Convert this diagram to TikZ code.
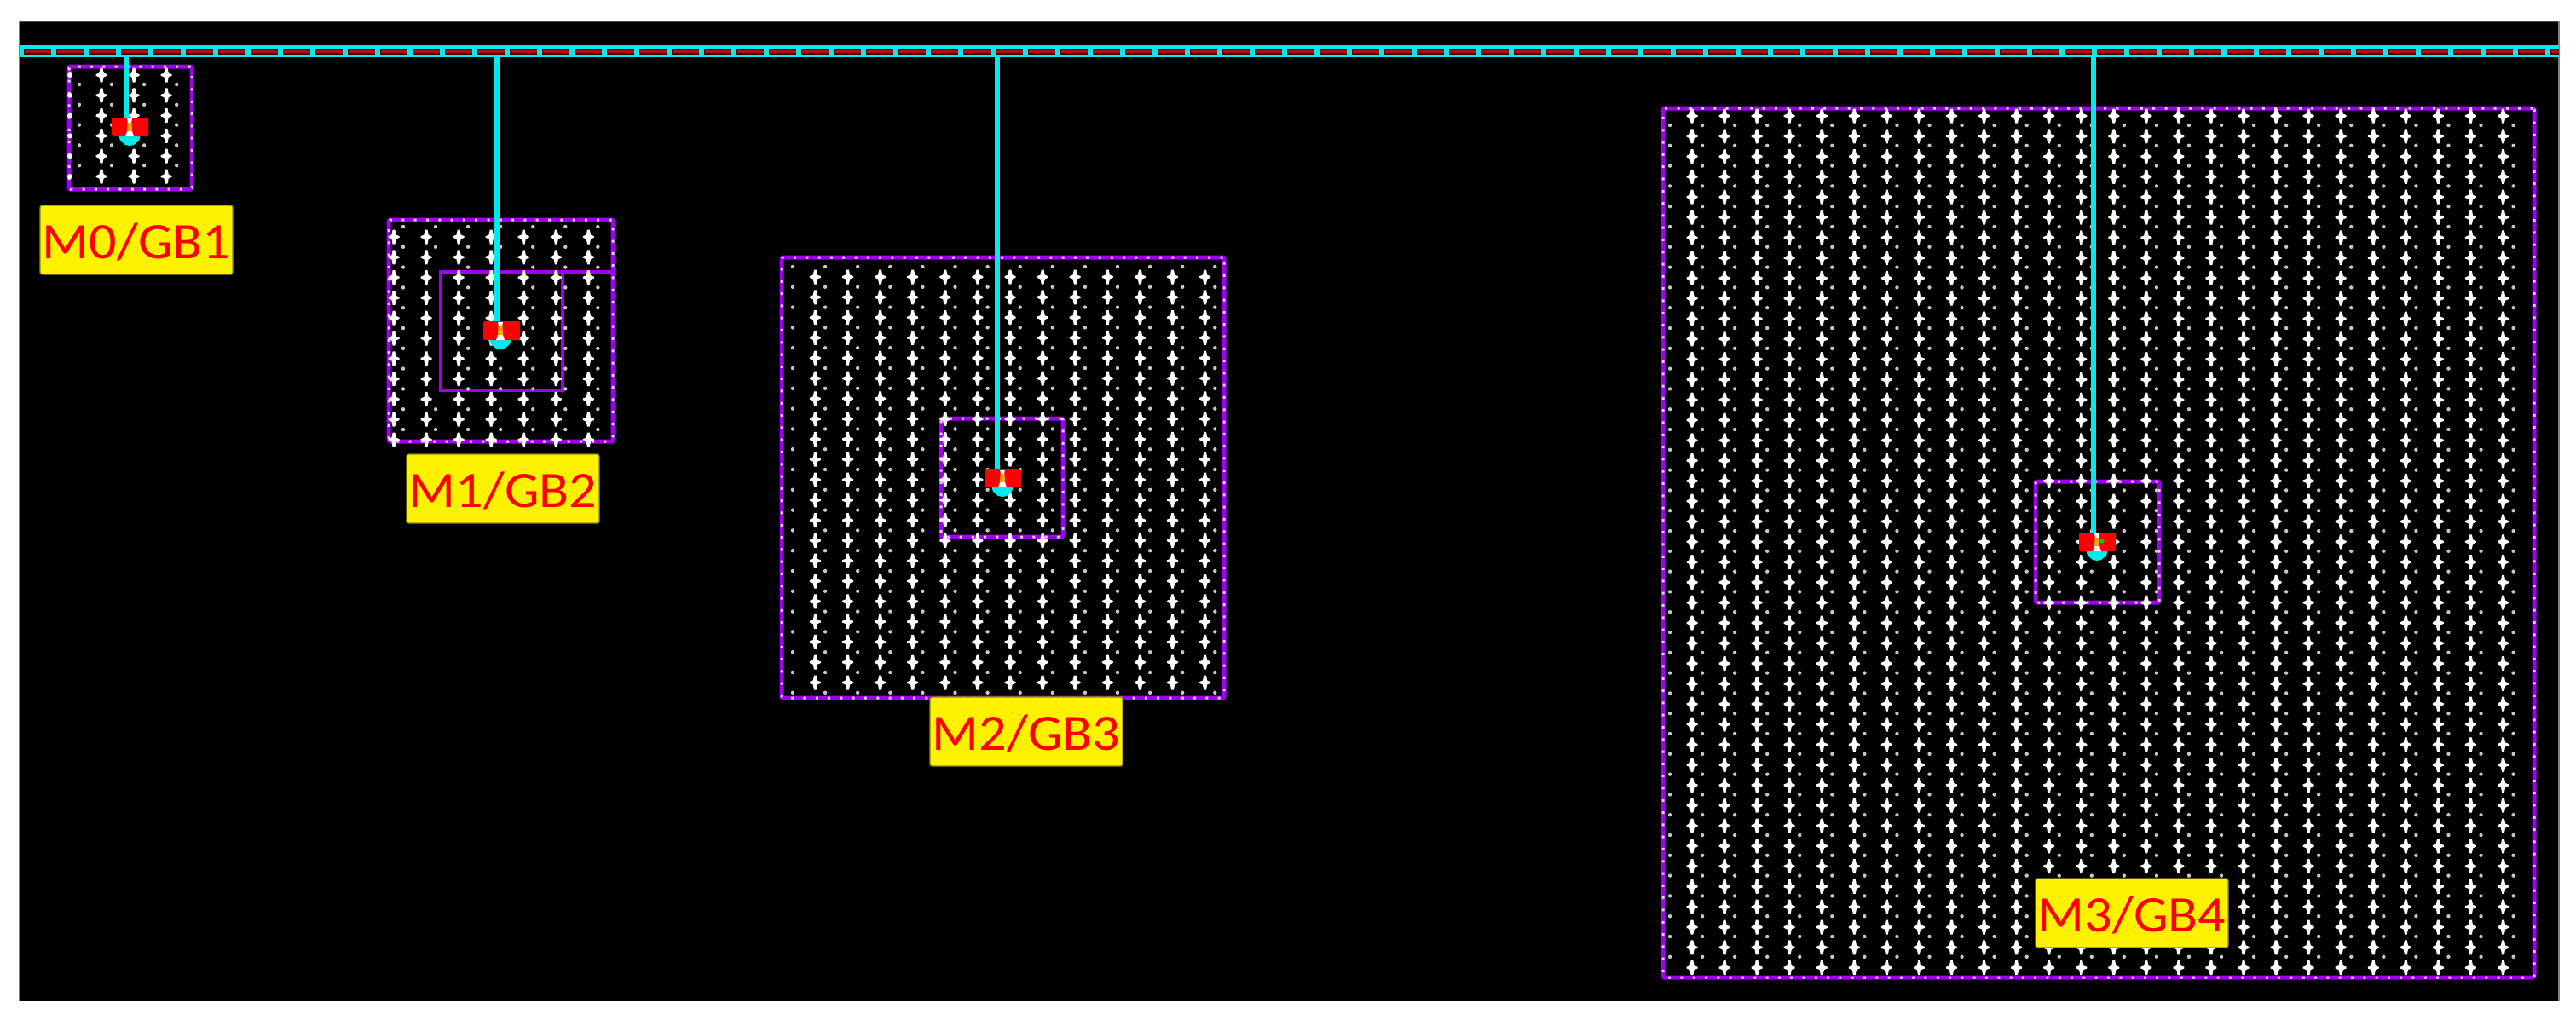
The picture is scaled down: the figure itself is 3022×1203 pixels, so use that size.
\documentclass[tikz,border=0pt]{standalone}
\usepackage{fontspec}
\setmainfont[FakeStretch=1.07]{Carlito}
\definecolor{bus}{HTML}{00EBEB}
\definecolor{pur}{HTML}{A000F0}
\definecolor{edgew}{HTML}{E0D0EC}
\definecolor{dotg}{HTML}{C8C8C8}
\definecolor{dred}{HTML}{B01010}
\definecolor{laborder}{HTML}{8A8A00}
\tikzset{
  x=1pt,y=-1pt,
  gridbox/.style={draw=pur,line width=5pt,inner sep=0pt,outer sep=0pt,rounded corners=1.5pt,
    postaction={draw=edgew,line width=3pt,dash pattern=on 3pt off 11.3pt}},
  solidbox/.style={draw=pur,line width=4pt,inner sep=0pt,outer sep=0pt},
  wire/.style={draw=bus,line width=5.2pt},
  tag/.style={fill=yellow,draw=laborder,line width=1.2pt,rounded corners=2.5pt,inner sep=0pt,outer sep=0pt,
    text=red,font=\fontsize{60}{60}\selectfont,minimum width=226pt,text height=62pt,text depth=19pt},
  redcell/.style={fill=red,rounded corners=2pt,inner sep=0pt,outer sep=0pt,minimum width=43pt,minimum height=22pt},
}
\newcommand{\bx}[5]{\node[#1,minimum width={#4-#2},minimum height={#5-#3}] at ({(#2+#4)/2},{(#3+#5)/2})}
\newcommand{\plusgrid}[6]{% x0 dx nx y0 dy ny
  \foreach \i in {1,...,#3}{\foreach \j in {1,...,#6}{
    \pgfmathsetmacro{\px}{#1+(\i-1)*#2}\pgfmathsetmacro{\py}{#4+(\j-1)*#5}
    \fill[white] (\px-6.5,\py-0.9) -- (\px-2.6,\py-2.4) -- (\px-1.4,\py-8.5) -- (\px+1.4,\py-8.5) -- (\px+2.6,\py-2.4) -- (\px+6.5,\py-0.9) -- (\px+6.5,\py+0.9) -- (\px+2.6,\py+2.4) -- (\px+1.4,\py+8.5) -- (\px-1.4,\py+8.5) -- (\px-2.6,\py+2.4) -- (\px-6.5,\py+0.9) -- cycle;
  }}}
\newcommand{\dotgrid}[6]{%
  \foreach \i in {1,...,#3}{\foreach \j in {1,...,#6}{
    \pgfmathsetmacro{\px}{#1+(\i-1)*#2}\pgfmathsetmacro{\py}{#4+(\j-1)*#5}
    \fill[dotg] (\px,\py) circle (2.2);
  }}}
% cell: name, left x of red, top y of red, centre x
\newcommand{\cell}[4]{%
  \fill[bus] (#4-13,#3+20) -- (#4+13,#3+20) -- (#4+11,#3+27) -- (#4+5,#3+32) -- (#4,#3+33) -- (#4-5,#3+32) -- (#4-11,#3+27) -- cycle;
  \node[redcell,anchor=north west] (#1) at (#2,#3) {};
  \fill[white] (#4-3,#3+1) -- (#4+3,#3+1) -- (#4+2,#3+6) -- (#4-2,#3+6) -- cycle;
  \fill[orange!70!yellow] (#4-2.5,#3+6) -- (#4+2.5,#3+6) -- (#4+3,#3+16) -- (#4-3,#3+16) -- cycle;
  \fill[white] (#4-3,#3+16) -- (#4+3,#3+16) -- (#4+5,#3+22) -- (#4-5,#3+22) -- cycle;
}
\begin{document}
\begin{tikzpicture}
\useasboundingbox (0,0) rectangle (3022,1203);
\fill[white] (0,0) rectangle (3022,1203);
\fill[black] (23,25) rectangle (3002,1175);
\draw[gray,line width=1.5pt] (23,1175) -- (23,25);
\draw[black!70,line width=1pt] (23,25) -- (3002,25);
\draw[gray,line width=1.5pt] (3002,25) -- (3002,1175);

% bus
\node[fill=bus,inner sep=0pt,outer sep=0pt,minimum width=2979pt,minimum height=14pt] (bar) at (1512.5,60) {};
\coordinate (busL) at (28,60.5);
\coordinate (busR) at (3002,60.5);
\draw[black!60!dred,line width=7pt,dash pattern=on 32pt off 6pt] (busL) -- (busR);
\draw[dred,line width=3.5pt,dash pattern=on 31pt off 7pt,dash phase=-0.5pt] (busL) -- (busR);

% M0
\bx{gridbox}{81}{78}{225}{222} (m0) {};
\plusgrid{119}{38.06}{3}{88}{23.8}{6}
\dotgrid{93}{38.06}{4}{99}{23.8}{5}
\foreach \j in {0,...,5}{\fill[white] (82,{88+\j*23.8}) circle (3);}
\coordinate (t0) at (148,140);
\draw[wire] (bar.south -| t0) -- (t0);
\cell{c0}{131}{138}{152}

% M1
\bx{gridbox}{456}{258}{719}{518} (m1) {};
\bx{solidbox}{517}{319}{660}{458} (m1i) {};
\draw[solidbox] (m1i.north east) -- (m1i.north east -| m1.east);
\plusgrid{462}{38.06}{7}{278}{23.8}{11}
\foreach \i in {0,...,6}{\foreach \j in {0,...,10}{
  \pgfmathsetmacro{\px}{473+\i*38.06}\pgfmathsetmacro{\py}{266+\j*23.8}
  \pgfmathparse{(\i==1 && \j>1 && \j<9) || (\i==3 && \j>1 && \j<7) ? 0 : 1}
  \ifdim\pgfmathresult pt>0.5pt \fill[dotg] (\px,\py) circle (2.2); \fi
}}
\coordinate (t1) at (583,380);
\draw[wire] (bar.south -| t1) -- (t1);
\cell{c1}{567}{377}{587}

% M2
\bx{gridbox}{917}{302}{1436}{819} (m2) {};
\bx{gridbox}{1104}{491}{1247}{630} (m2i) {};
\plusgrid{956.4}{38.1}{13}{325}{23.8}{21}
\dotgrid{930}{38.1}{14}{313}{23.8}{22}
\coordinate (t2) at (1170,553);
\draw[wire] (bar.south -| t2) -- (t2);
\cell{c2}{1155}{550}{1176}

% M3
\bx{gridbox}{1951}{127}{2973}{1147} (m3) {};
\bx{gridbox}{2388}{565}{2533}{707} (m3i) {};
\plusgrid{1985}{38.06}{26}{136}{23.8}{43}
\dotgrid{1959}{38.06}{27}{147}{23.8}{42}
\coordinate (t3) at (2456,627);
\draw[wire] (bar.south -| t3) -- (t3);
\cell{c3}{2439}{625}{2460}
\fill[green!80!black] (2466,635) circle (2.5);

% labels
\node[tag] (l0) at (160,281.5) {M0/GB1};
\node[tag] (l1) at (590,573.5) {M1/GB2};
\node[tag] (l2) at (1204,858.5) {M2/GB3};
\node[tag] (l3) at (2501,1071.5) {M3/GB4};
\end{tikzpicture}
\end{document}
